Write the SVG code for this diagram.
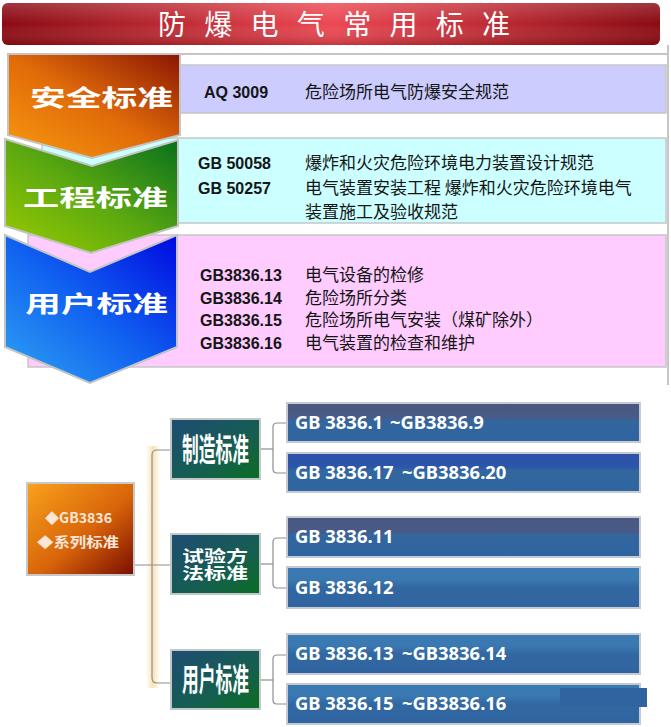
<svg xmlns="http://www.w3.org/2000/svg" width="671" height="727" viewBox="0 0 671 727">
<defs>
  <linearGradient id="gTitle" x1="0" y1="0" x2="1" y2="0">
    <stop offset="0" stop-color="#8a0a12"/>
    <stop offset="0.5" stop-color="#ec4852"/>
    <stop offset="1" stop-color="#8a0a12"/>
  </linearGradient>
  <linearGradient id="gSheen" x1="0" y1="0" x2="0" y2="1">
    <stop offset="0" stop-color="#ffffff" stop-opacity="0.18"/>
    <stop offset="0.5" stop-color="#ffffff" stop-opacity="0"/>
    <stop offset="1" stop-color="#500000" stop-opacity="0.25"/>
  </linearGradient>
  <linearGradient id="gOrange" x1="0" y1="1" x2="1" y2="0">
    <stop offset="0" stop-color="#f99a10"/>
    <stop offset="0.5" stop-color="#e06a08"/>
    <stop offset="1" stop-color="#8a1604"/>
  </linearGradient>
  <linearGradient id="gGreen" x1="0" y1="1" x2="1" y2="0">
    <stop offset="0" stop-color="#9ccc00"/>
    <stop offset="0.5" stop-color="#5aa810"/>
    <stop offset="1" stop-color="#07701e"/>
  </linearGradient>
  <linearGradient id="gBlue" x1="0" y1="1" x2="1" y2="0">
    <stop offset="0" stop-color="#2fa4f2"/>
    <stop offset="0.5" stop-color="#1060f0"/>
    <stop offset="1" stop-color="#0008e0"/>
  </linearGradient>
  <linearGradient id="gRoot" x1="0" y1="0" x2="1" y2="1">
    <stop offset="0" stop-color="#f9a21c"/>
    <stop offset="0.55" stop-color="#d8640a"/>
    <stop offset="1" stop-color="#7a0c00"/>
  </linearGradient>
  <linearGradient id="gMid" x1="0" y1="0" x2="1" y2="1">
    <stop offset="0" stop-color="#1f4c74"/>
    <stop offset="0.6" stop-color="#155e50"/>
    <stop offset="1" stop-color="#0a6e22"/>
  </linearGradient>
  <linearGradient id="gLeafA" x1="0" y1="0" x2="0" y2="1">
    <stop offset="0" stop-color="#4a5880"/>
    <stop offset="0.36" stop-color="#485a86"/>
    <stop offset="0.46" stop-color="#33669e"/>
    <stop offset="1" stop-color="#2f64a0"/>
  </linearGradient>
  <linearGradient id="gLeafB" x1="0" y1="0" x2="0" y2="1">
    <stop offset="0" stop-color="#2b52a8"/>
    <stop offset="0.36" stop-color="#2c56aa"/>
    <stop offset="0.46" stop-color="#32689e"/>
    <stop offset="1" stop-color="#2f65a0"/>
  </linearGradient>
  <linearGradient id="gLeafC" x1="0" y1="0" x2="0" y2="1">
    <stop offset="0" stop-color="#3a7ab3"/>
    <stop offset="0.3" stop-color="#3a78b1"/>
    <stop offset="0.5" stop-color="#3268a2"/>
    <stop offset="1" stop-color="#2f64a0"/>
  </linearGradient>
  <linearGradient id="gGlow" x1="0" y1="0" x2="1" y2="0">
    <stop offset="0" stop-color="#f6c978" stop-opacity="0"/>
    <stop offset="0.5" stop-color="#f6c978" stop-opacity="0.55"/>
    <stop offset="1" stop-color="#f6c978" stop-opacity="0"/>
  </linearGradient>
</defs>
<style>
  .cn{font-family:"Noto Sans CJK SC","Noto Sans CJK JP",sans-serif;font-size:17px;fill:#151515}
  .code{font-family:"Liberation Sans",Arial,sans-serif;font-weight:bold;font-size:16px;fill:#151515}
  .chev{font-family:"Noto Sans CJK SC",sans-serif;font-weight:bold;font-size:23px;fill:#ffffff}
  .mid{font-family:"Noto Sans CJK SC",sans-serif;font-weight:bold;fill:#ffffff}
  .leaf{font-family:"Noto Sans","Open Sans",sans-serif;font-weight:bold;font-size:18.4px;fill:#ffffff}
  .chevshape{stroke:#c4c4c4;stroke-width:2}
  .band{stroke:#c6c6c6;stroke-width:1.5}
  .leafbox{stroke:#c5cad3;stroke-width:2}
  .midbox{fill:url(#gMid);stroke:#c2c8c8;stroke-width:2}
  .conn{fill:none;stroke:#8e8e8e;stroke-width:1.2}
</style>
<rect width="671" height="727" fill="#ffffff"/>

<g id="title">
  <rect x="2" y="3" width="658" height="42" rx="6" fill="url(#gTitle)"/>
  <rect x="2" y="3" width="658" height="42" rx="6" fill="url(#gSheen)"/>
  <text x="158" y="35" textLength="352" lengthAdjust="spacing" style="font-family:'Noto Sans CJK SC',sans-serif;font-size:28px;fill:#ffffff">防 爆 电 气 常 用 标 准</text>
</g>

<g id="panel">
  <line x1="8" y1="54" x2="668" y2="54" stroke="#c6c6c6" stroke-width="2"/>
  <line x1="668" y1="45" x2="668" y2="385" stroke="#c6c6c6" stroke-width="2"/>
</g>

<g id="sec-safety">
  <rect class="band" x="180" y="65" width="486" height="48" fill="#ccccff"/>
  <text class="code" x="204" y="98">AQ 3009</text>
  <text class="cn" x="305" y="98">危险场所电气防爆安全规范</text>
</g>

<g id="sec-engineering">
  <rect class="band" x="42" y="138" width="624" height="85" fill="#ccffff"/>
  <text class="code" x="198" y="169">GB 50058</text>
  <text class="code" x="198" y="194">GB 50257</text>
  <text class="cn" x="305" y="169">爆炸和火灾危险环境电力装置设计规范<tspan x="305" y="194">电气装置安装工程 爆炸和火灾危险环境电气</tspan><tspan x="305" y="218">装置施工及验收规范</tspan></text>
</g>

<g id="sec-user">
  <rect class="band" x="28" y="235" width="638" height="132" fill="#ffccff"/>
  <text class="code" x="200" y="281">GB3836.13<tspan x="200" y="304">GB3836.14</tspan><tspan x="200" y="326">GB3836.15</tspan><tspan x="200" y="349">GB3836.16</tspan></text>
  <text class="cn" x="305" y="281">电气设备的检修<tspan x="305" y="304">危险场所分类</tspan><tspan x="305" y="326">危险场所电气安装（煤矿除外）</tspan><tspan x="305" y="349">电气装置的检查和维护</tspan></text>
</g>

<g id="chev-user">
  <path class="chevshape" d="M5,235 L90,272 L177,235 V347 L90,383 L5,347 Z" fill="url(#gBlue)"/>
  <text class="chev" x="25" y="311.5" textLength="143" lengthAdjust="spacingAndGlyphs">用户标准</text>
</g>
<g id="chev-engineering">
  <path class="chevshape" d="M5,139 L92,166 L178,140 V226 L91,253 L5,226 Z" fill="url(#gGreen)"/>
  <text class="chev" x="23" y="205.5" textLength="145" lengthAdjust="spacingAndGlyphs">工程标准</text>
</g>
<g id="chev-safety">
  <path class="chevshape" d="M8,54 H180 V135 L92,158 L8,135 Z" fill="url(#gOrange)"/>
  <text class="chev" x="30" y="105.5" textLength="143" lengthAdjust="spacingAndGlyphs">安全标准</text>
</g>

<g id="connectors">
  <rect x="146" y="446" width="14" height="242" fill="url(#gGlow)"/>
  <path class="conn" d="M134,565 H171"/>
  <path class="conn" d="M171,450 H157 Q152,450 152,455 V678 Q152,683 157,683 H171"/>
  <path class="conn" d="M260,449 H273"/>
  <path class="conn" d="M287,423 H277 Q273,423 273,427 V469 Q273,473 277,473 H287"/>
  <path class="conn" d="M260,564 H273"/>
  <path class="conn" d="M287,538 H277 Q273,538 273,542 V584 Q273,588 277,588 H287"/>
  <path class="conn" d="M260,680 H273"/>
  <path class="conn" d="M287,655 H277 Q273,655 273,659 V700 Q273,704 277,704 H287"/>
</g>

<g id="root">
  <rect x="27" y="483" width="107" height="92" fill="url(#gRoot)" stroke="#c8c8c8" stroke-width="2"/>
  <text x="45" y="523" textLength="67" lengthAdjust="spacingAndGlyphs" style="font-family:'Noto Sans CJK SC',sans-serif;font-weight:bold;font-size:14px;fill:#fbe6d8">◆GB3836</text>
  <text x="37" y="547" textLength="82" lengthAdjust="spacingAndGlyphs" style="font-family:'Noto Sans CJK SC',sans-serif;font-weight:bold;font-size:14px;fill:#fbe6d8">◆系列标准</text>
</g>

<g id="mid-manufacture">
  <rect class="midbox" x="171" y="419" width="89" height="60"/>
  <text class="mid" x="182" y="461" font-size="32" textLength="67" lengthAdjust="spacingAndGlyphs">制造标准</text>
</g>
<g id="mid-test">
  <rect class="midbox" x="171" y="534" width="89" height="60"/>
  <text class="mid" x="182" y="562" font-size="16" textLength="66" lengthAdjust="spacingAndGlyphs">试验方</text>
  <text class="mid" x="182" y="578.5" font-size="16" textLength="66" lengthAdjust="spacingAndGlyphs">法标准</text>
</g>
<g id="mid-user">
  <rect class="midbox" x="171" y="650" width="89" height="59"/>
  <text class="mid" x="182" y="691" font-size="32" textLength="67" lengthAdjust="spacingAndGlyphs">用户标准</text>
</g>

<g id="leaf-1">
  <rect class="leafbox" x="287" y="403" width="353" height="39" fill="url(#gLeafA)"/>
  <text class="leaf" x="295" y="428.5">GB 3836.1 <tspan x="390">~GB3836.9</tspan></text>
</g>
<g id="leaf-2">
  <rect class="leafbox" x="287" y="453" width="353" height="39" fill="url(#gLeafB)"/>
  <text class="leaf" x="295" y="478.5">GB 3836.17 <tspan x="402">~GB3836.20</tspan></text>
</g>
<g id="leaf-3">
  <rect class="leafbox" x="287" y="517" width="353" height="40" fill="url(#gLeafA)"/>
  <text class="leaf" x="295" y="543">GB 3836.11</text>
</g>
<g id="leaf-4">
  <rect class="leafbox" x="287" y="567" width="353" height="41" fill="url(#gLeafC)"/>
  <text class="leaf" x="295" y="593.5">GB 3836.12</text>
</g>
<g id="leaf-5">
  <rect class="leafbox" x="287" y="634" width="353" height="40" fill="url(#gLeafC)"/>
  <text class="leaf" x="295" y="659.5">GB 3836.13 <tspan x="402">~GB3836.14</tspan></text>
</g>
<g id="leaf-6">
  <rect class="leafbox" x="287" y="684" width="353" height="40" fill="url(#gLeafC)"/>
  <rect x="560" y="688" width="87" height="19" fill="#2f64a0"/>
  <text class="leaf" x="295" y="709.5">GB 3836.15 <tspan x="402">~GB3836.16</tspan></text>
</g>
</svg>
